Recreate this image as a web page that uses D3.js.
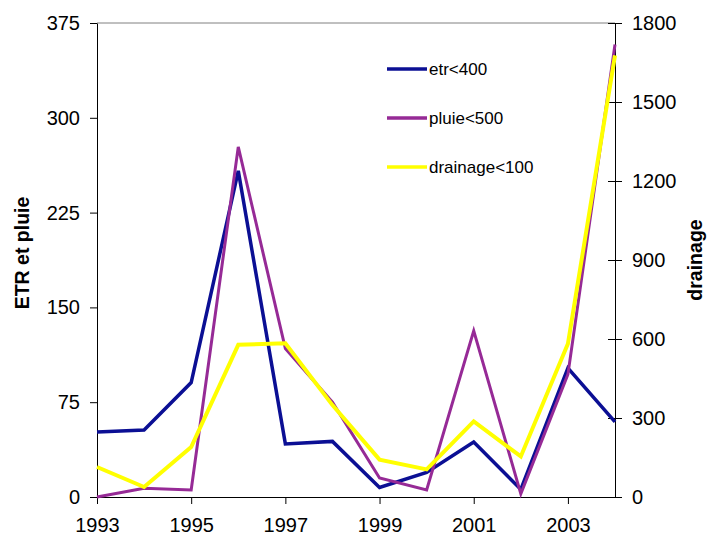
<!DOCTYPE html>
<html><head><meta charset="utf-8">
<script src="https://cdn.jsdelivr.net/npm/d3@7"></script>
<style>
body{margin:0;background:#fff;}
text{font-family:"Liberation Sans",Arial,sans-serif;}
</style></head>
<body><div id="chart"></div>
<script>
const years = [1993,1994,1995,1996,1997,1998,1999,2000,2001,2002,2003,2004];
const etr = [51.5,53,90.5,258,42,44,7.5,19.5,43.5,6,102,59.5];
const pluie = [0,7,5.5,277,117.5,75,15,5.5,131.5,2.5,97,358];
const drainage = [114,38,190,578,584,349,142,105,287,154,582,1677];
const leftTicks = [0,75,150,225,300,375];
const rightTicks = [0,300,600,900,1200,1500,1800];
const xTickYears = [1993,1995,1997,1999,2001,2003];
const seriesNames = ["etr<400","pluie<500","drainage<100"];
const colors = ["#0b0f94","#962a96","#ffff00"];
const widths = [3.5,3,4];

const W=707,H=538;
const m={left:97,right:92,top:23,bottom:41};
const svg=d3.select("#chart").append("svg").attr("width",W).attr("height",H);
const x=d3.scaleLinear().domain([1993,2004]).range([m.left,W-m.right]);
const yL=d3.scaleLinear().domain([0,375]).range([H-m.bottom,m.top]);
const yR=d3.scaleLinear().domain([0,1800]).range([H-m.bottom,m.top]);

svg.append("line").attr("x1",m.left).attr("x2",W-m.right).attr("y1",m.top).attr("y2",m.top)
  .attr("stroke","#808080").attr("stroke-width",1);

const fs=20;
const gL=svg.append("g").attr("transform",`translate(${m.left},0)`)
  .call(d3.axisLeft(yL).tickValues(leftTicks).tickSize(7).tickSizeOuter(0).tickPadding(10));
const gB=svg.append("g").attr("transform",`translate(0,${H-m.bottom})`)
  .call(d3.axisBottom(x).tickValues(xTickYears).tickFormat(d3.format("d")).tickSize(7).tickSizeOuter(0).tickPadding(14));
const gR=svg.append("g").attr("transform",`translate(${W-m.right},0)`)
  .call(d3.axisRight(yR).tickValues(rightTicks).tickFormat(d3.format("d")).tickSize(7).tickSizeOuter(0).tickPadding(10));
gR.selectAll(".tick line").attr("x1",-7);
[gL,gB,gR].forEach(g=>{
  g.selectAll("text").attr("font-size",fs).attr("font-family","Liberation Sans, Arial, sans-serif").attr("fill","#000");
  g.selectAll("line,path").attr("stroke","#000");
});

const data=[etr,pluie,drainage];
const scales=[yL,yL,yR];
data.forEach((vals,i)=>{
  const line=d3.line().x((d,j)=>x(years[j])).y(d=>scales[i](d));
  svg.append("path").datum(vals).attr("d",line).attr("fill","none")
    .attr("stroke",colors[i]).attr("stroke-width",widths[i]).attr("stroke-linejoin","miter");
});

svg.append("text").attr("transform","translate(29,253) rotate(-90)").attr("text-anchor","middle")
  .attr("font-size",19.5).attr("font-weight","bold").text("ETR et pluie");
svg.append("text").attr("transform","translate(702,260) rotate(-90)").attr("text-anchor","middle")
  .attr("font-size",19.5).attr("font-weight","bold").text("drainage");

const lg=svg.append("g");
const ly=[69,118,167];
seriesNames.forEach((n,i)=>{
  lg.append("line").attr("x1",387).attr("x2",427).attr("y1",ly[i]).attr("y2",ly[i])
    .attr("stroke",colors[i]).attr("stroke-width",3.5);
  lg.append("text").attr("x",429).attr("y",ly[i]+6).attr("font-size",17).text(n);
});
</script></body></html>
